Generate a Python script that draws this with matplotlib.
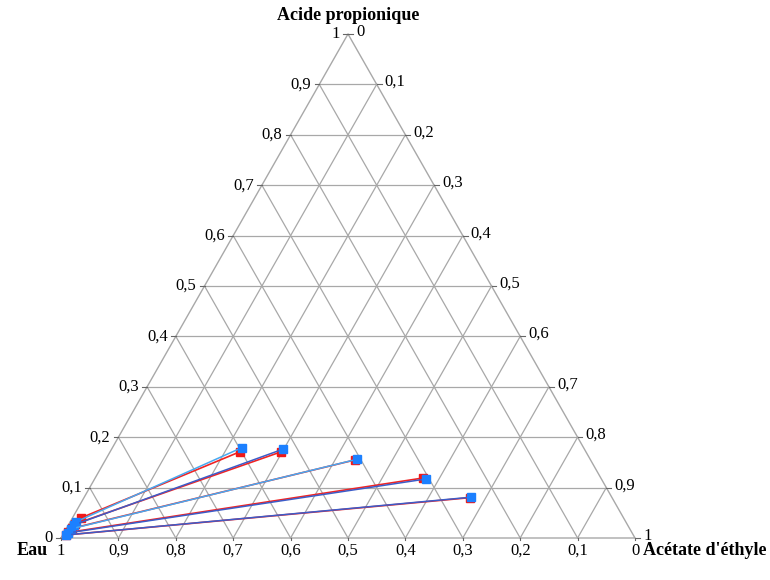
import matplotlib
matplotlib.use("Agg")
import matplotlib.pyplot as plt
import numpy as np

plt.rcParams['font.family'] = ['Liberation Serif', 'DejaVu Serif']

# Tie lines: fractions of acide propionique (acid) and acetate d'ethyle (ester)
# experimental (red)
exp_org_acid = [0.171, 0.171, 0.155, 0.119, 0.080]
exp_org_ester = [0.226, 0.298, 0.435, 0.571, 0.672]
exp_aq_acid = [0.040, 0.028, 0.019, 0.011, 0.006]
exp_aq_ester = [0.015, 0.011, 0.009, 0.007, 0.006]
# calculated (blue)
calc_org_acid = [0.179, 0.176, 0.156, 0.117, 0.081]
calc_org_ester = [0.225, 0.298, 0.437, 0.577, 0.674]
calc_aq_acid = [0.032, 0.026, 0.018, 0.010, 0.006]
calc_aq_ester = [0.010, 0.0097, 0.0084, 0.007, 0.0057]

ticks = [round(0.1 * i, 1) for i in range(11)]
tick_labels = ['0' if t == 0 else '1' if t == 1 else ('%.1f' % t).replace('.', ',') for t in ticks]

grid_color = '#a8a8a8'
calc_colors = ['#48a8f0', '#3c5cc8', '#48a8f0', '#3c5cc8', '#3c5cc8']


def xy(acid, ester):
    acid = np.asarray(acid, dtype=float)
    ester = np.asarray(ester, dtype=float)
    return ester + acid / 2, acid


fig = plt.figure(figsize=(7.7, 5.8), dpi=100)
ax = fig.add_axes([0, 0, 1, 1])
ax.set_xlim(-61 / 574, 709 / 574)
ax.set_ylim(-42 / 504, 538 / 504)
ax.axis('off')

# triangle border
ax.plot([0, 1, 0.5, 0], [0, 0, 1, 0], color=grid_color, lw=1.0)

# grid lines
for t in ticks[1:-1]:
    # constant acid
    ax.plot([t / 2, 1 - t / 2], [t, t], color=grid_color, lw=0.9)
    # constant ester
    x0, y0 = xy(0, t)
    x1, y1 = xy(1 - t, t)
    ax.plot([x0, x1], [y0, y1], color=grid_color, lw=0.9)
    # constant water
    x0, y0 = xy(0, 1 - t)
    x1, y1 = xy(1 - t, 0)
    ax.plot([x0, x1], [y0, y1], color=grid_color, lw=0.9)

dx = 8 / 574
dy = 8 / 504
fs = 12

# tick labels
for t, lab in zip(ticks, tick_labels):
    # bottom axis: water fraction, 1 at left
    x, y = xy(0, 1 - t)
    ax.plot([x, x], [y, y - 0.25 * dy], color='#666666', lw=0.8)
    if t != 0:
        ax.text(x, y - 1.6 * dy, lab, ha='center', va='center', fontsize=fs)
    # left axis: acid fraction
    x, y = xy(t, 0)
    ax.plot([x, x - 0.6 * dx], [y, y], color='#666666', lw=0.8)
    ax.text(x - 1.0 * dx, y, lab, ha='right', va='center', fontsize=fs)
    # right axis: ester fraction, 0 at top
    x, y = xy(1 - t, t)
    ax.plot([x, x + 0.6 * dx], [y, y], color='#666666', lw=0.8)
    ax.text(x + 1.0 * dx, y + 0.3 * dy, lab, ha='left', va='center', fontsize=fs)

ax.text(1.0, -1.6 * dy, '0', ha='center', va='center', fontsize=fs)

# axis titles
ax.text(0.5, 1.0 + 2.3 * dy, 'Acide propionique', ha='center', va='center',
        fontsize=13, fontweight='bold')
ax.text(-1.6 * dx, -1.6 * dy, 'Eau', ha='right', va='center',
        fontsize=13, fontweight='bold')
ax.text(1.0 + 1.0 * dx, -1.6 * dy, "Acétate d'éthyle", ha='left', va='center',
        fontsize=13, fontweight='bold')

# tie lines
for acid_o, est_o, acid_a, est_a in zip(exp_org_acid, exp_org_ester, exp_aq_acid, exp_aq_ester):
    x, y = xy([acid_a, acid_o], [est_a, est_o])
    ax.plot(x, y, color='#f02424', lw=1.2, marker='s', ms=6, mfc='#f01818', mec='#f01818')

for i, (acid_o, est_o, acid_a, est_a) in enumerate(zip(calc_org_acid, calc_org_ester, calc_aq_acid, calc_aq_ester)):
    x, y = xy([acid_a, acid_o], [est_a, est_o])
    ax.plot(x, y, color=calc_colors[i], lw=1.1, marker='s', ms=6, mfc='#1c80ff', mec='#1c80ff')

fig.savefig('out.png', dpi=100, facecolor='white')
